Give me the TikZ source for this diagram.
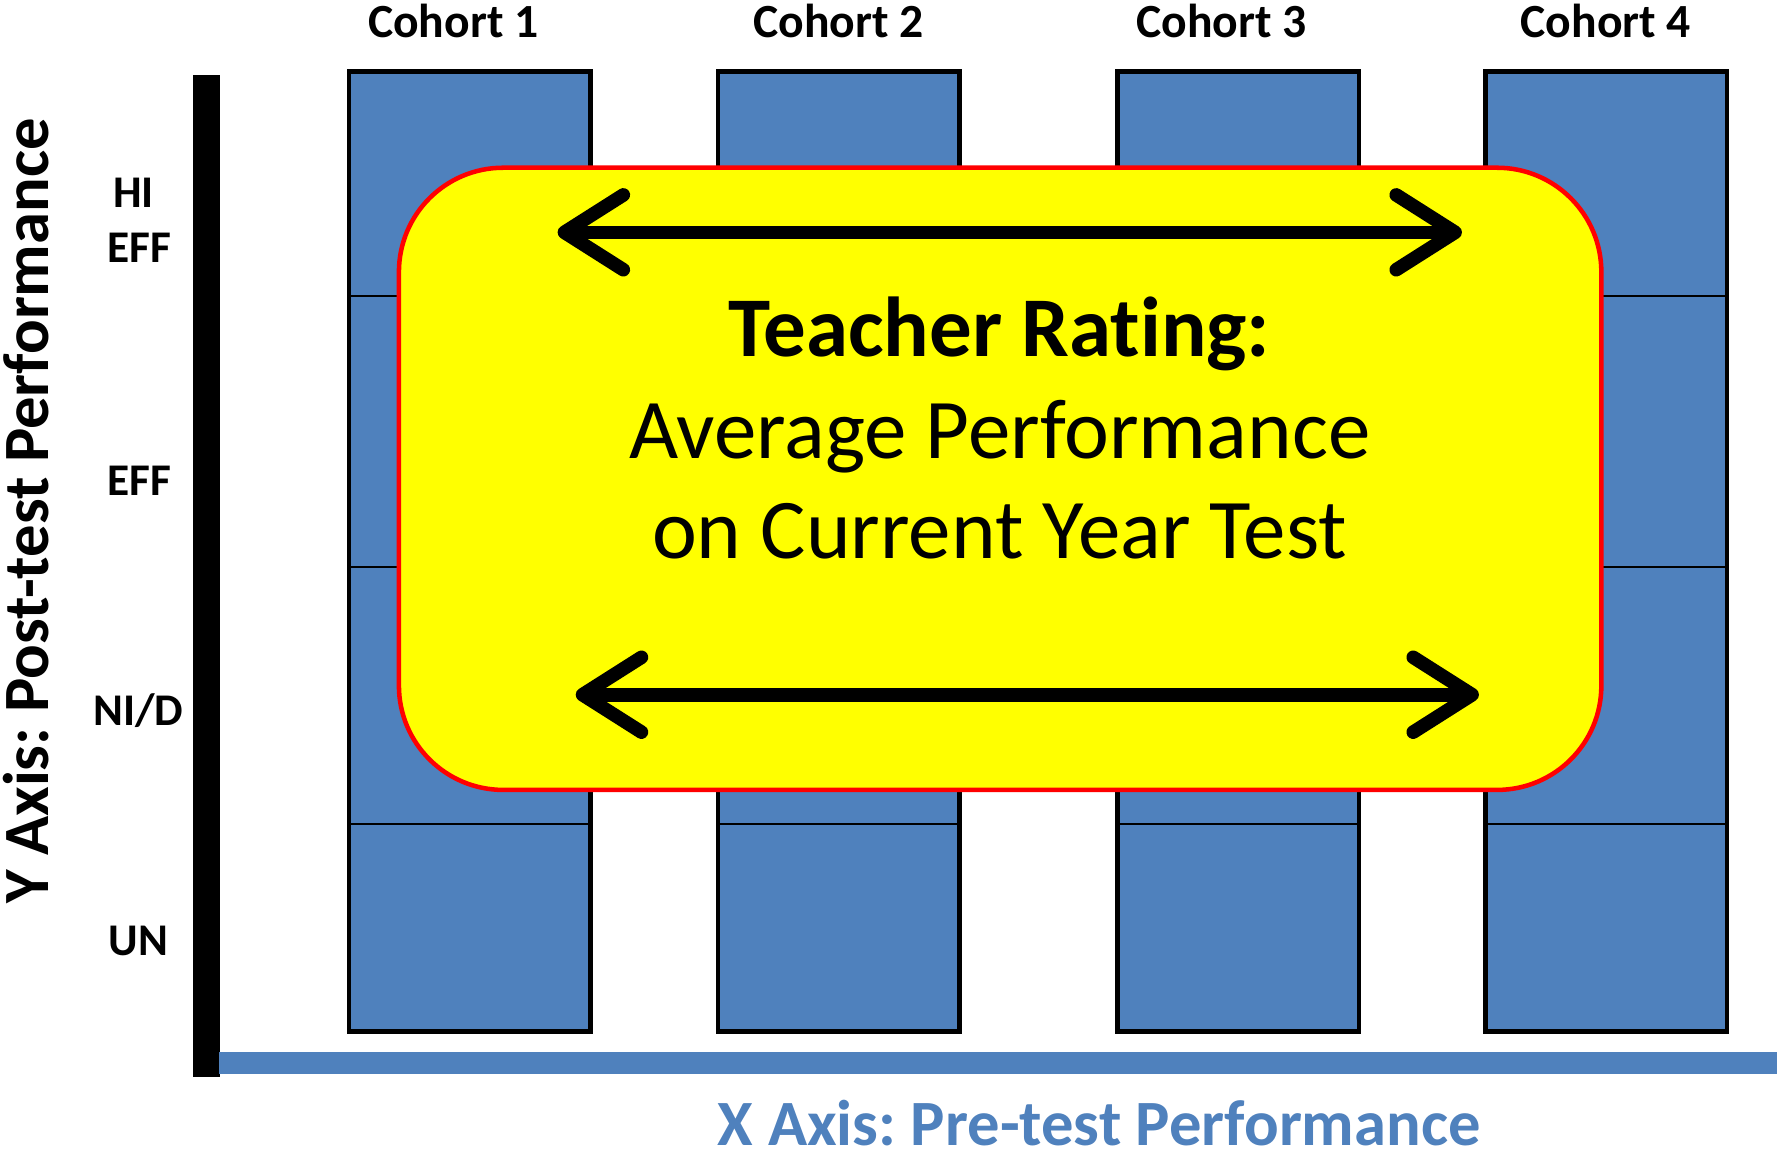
\documentclass[tikz,border=0pt]{standalone}
\usepackage{fontspec}
\setmainfont{Carlito}[Ligatures=NoCommon]
\usetikzlibrary{arrows.meta}
\definecolor{barblue}{HTML}{4F81BD}
\definecolor{boxyellow}{HTML}{FFFF00}
\definecolor{boxred}{HTML}{FF0000}
\frenchspacing
\begin{document}
\begin{tikzpicture}[x=1pt,y=-1pt,
  bar/.style={draw=black, line width=4pt, fill=barblue, minimum width=213pt, minimum height=847pt, inner sep=0pt, outer sep=0pt},
  cohort/.style={font=\fontsize{42}{50}\selectfont\bfseries, anchor=base, inner sep=0pt},
  level/.style={font=\fontsize{40}{48}\selectfont\bfseries, anchor=base, inner sep=0pt},
  divider/.style={line width=1.5pt, draw=black},
  bigtext/.style={font=\fontsize{75}{88}\selectfont, anchor=base, inner sep=0pt},
  dblarrow/.style={line width=12pt, {Straight Barb[length=52pt, width=66pt, round]}-{Straight Barb[length=52pt, width=66pt, round]}},
  axislabel/.style={font=\fontsize{57}{66}\selectfont\bfseries, anchor=base, inner sep=0pt},
]
\useasboundingbox (0,0) rectangle (1568,1017);

% bars
\node[bar] (c1) at (414.5,486.5) {};
\node[bar] (c2) at (740,486.5) {};
\node[bar] (c3) at (1092.5,486.5) {};
\node[bar] (c4) at (1417.5,486.5) {};
\foreach \b in {c1,c2,c3,c4}{
  \foreach \yy in {261,500,727}{
    \draw[divider] (\b.west |- 0,\yy) -- (\b.east |- 0,\yy);
  }
}

% cohort labels
\node[cohort] (t1) at (400,33) {Cohort 1};
\node[cohort] (t2) at (740,33) {Cohort 2};
\node[cohort] (t3) at (1078,33) {Cohort 3};
\node[cohort] (t4) at (1417,33) {Cohort 4};

% axes
\fill[black] (170,66) rectangle (194,950);
\fill[barblue] (193,928) rectangle (1568,948);

% level labels
\node[level] (hi) at (118,183) {HI};
\node[level] (eff1) at (123,232) {EFF};
\node[level] (eff2) at (123,437) {EFF};
\node[level] (nid) at (122,640) {NI/D};
\node[level] (un) at (122,843) {UN};

% axis labels
\node[axislabel, rotate=90] (ylab) at (43,451) {Y Axis: Post-test Performance};
\node[axislabel, text=barblue] (xlab) at (970,1011) {X Axis: Pre-test Performance};

% yellow box
\node[draw=boxred, line width=4pt, fill=boxyellow, rounded corners=92pt, minimum width=1061pt, minimum height=549pt, inner sep=0pt] (box) at (882.5,422.5) {};

\node[bigtext, font=\fontsize{75}{88}\selectfont\bfseries] (title) at (882,315) {Teacher Rating:};
\node[bigtext] (line1) at (882,405) {Average Performance};
\node[bigtext] (line2) at (882,493) {on Current Year Test};

\coordinate (a1l) at (492,205);
\coordinate (a1r) at (1290,205);
\coordinate (a2l) at (508,613);
\coordinate (a2r) at (1305,613);
\draw[dblarrow] (a1l) -- (a1r);
\draw[dblarrow] (a2l) -- (a2r);
\end{tikzpicture}
\end{document}
